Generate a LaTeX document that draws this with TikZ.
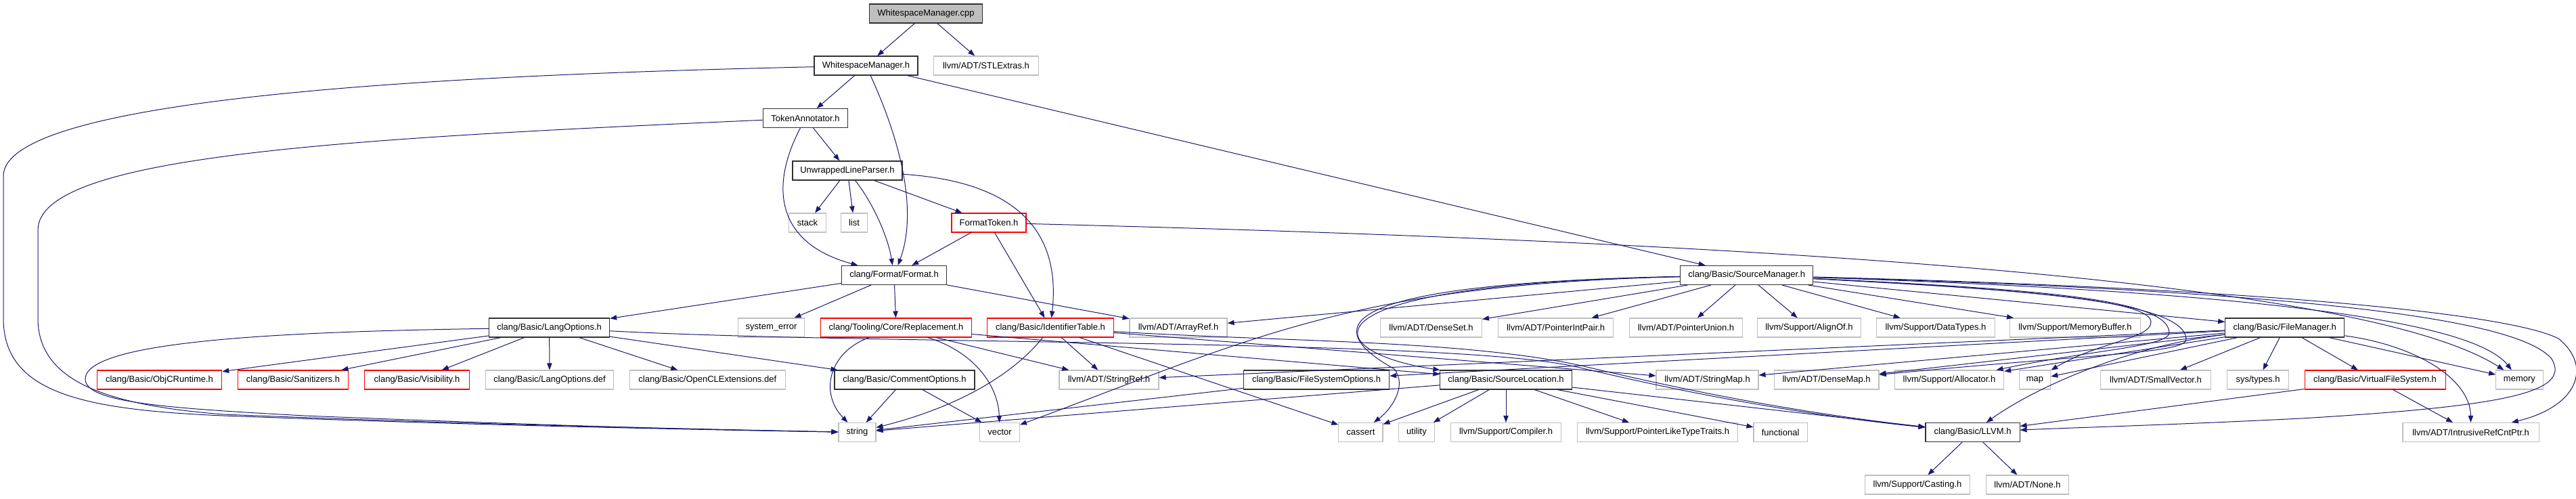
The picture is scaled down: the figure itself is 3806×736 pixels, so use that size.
\documentclass[tikz,border=0pt]{standalone}
\usepackage{fontspec}
\setmainfont{Liberation Sans}
\usetikzlibrary{arrows.meta}
\definecolor{edgec}{RGB}{25,25,112}
\definecolor{grayb}{RGB}{191,191,191}
\definecolor{redb}{RGB}{255,0,0}
\definecolor{blackb}{RGB}{50,50,50}
\begin{document}
\begin{tikzpicture}[x=0.75pt,y=-0.75pt,
  every node/.style={font=\fontsize{9.75}{11}\selectfont},
  box/.style={draw, rectangle, minimum height=21pt, inner sep=0pt, line width=0.8pt, fill=white},
  bk/.style={box, draw=blackb},
  gr/.style={box, draw=grayb},
  rd/.style={box, draw=redb},
  wd/.style={minimum width=#1*0.75pt},
  e/.style={draw=edgec, line width=0.75pt, -{Triangle[length=7.5pt,width=5.5pt]}}]
\useasboundingbox (0,0) rectangle (3806,736);
% nodes
\node[bk,wd=166.5,fill=grayb] (cpp) at (1368,20) {WhitespaceManager.cpp};
\node[bk,wd=153] (wmh) at (1279.5,97) {WhitespaceManager.h};
\node[gr,wd=155] (stl) at (1457,97) {llvm/ADT/STLExtras.h};
\node[bk,wd=125.5] (ta) at (1190,174.5) {TokenAnnotator.h};
\node[bk,wd=162] (ulp) at (1252,252) {UnwrappedLineParser.h};
\node[gr,wd=55] (stack) at (1193,329) {stack};
\node[gr,wd=39] (list) at (1262,329) {list};
\node[rd,wd=110] (ft) at (1461,329) {FormatToken.h};
\node[bk,wd=155] (fmt) at (1321,406.5) {clang/Format/Format.h};
\node[bk,wd=196] (sm) at (2580.7,406.5) {clang/Basic/SourceManager.h};
\node[bk,wd=178] (lo) at (811.6,484) {clang/Basic/LangOptions.h};
\node[gr,wd=98] (se) at (1139.6,484) {system\_error};
\node[rd,wd=222.6] (rep) at (1324,484) {clang/Tooling/Core/Replacement.h};
\node[rd,wd=186.6] (it) at (1552,484) {clang/Basic/IdentifierTable.h};
\node[gr,wd=144] (ar) at (1741,484) {llvm/ADT/ArrayRef.h};
\node[gr,wd=150] (ds) at (2114.5,484) {llvm/ADT/DenseSet.h};
\node[gr,wd=170.6] (pip) at (2298.6,484) {llvm/ADT/PointerIntPair.h};
\node[gr,wd=166.7] (pu) at (2491,484) {llvm/ADT/PointerUnion.h};
\node[gr,wd=153.5] (ao) at (2673,484) {llvm/Support/AlignOf.h};
\node[gr,wd=174.6] (dt) at (2860,484) {llvm/Support/DataTypes.h};
\node[gr,wd=192.3] (mb) at (3066,484) {llvm/Support/MemoryBuffer.h};
\node[bk,wd=176] (fm) at (3375.7,484) {clang/Basic/FileManager.h};
\node[rd,wd=184.5] (objc) at (235.5,561) {clang/Basic/ObjCRuntime.h};
\node[rd,wd=162.5] (san) at (433,561) {clang/Basic/Sanitizers.h};
\node[rd,wd=154.5] (vis) at (616,561) {clang/Basic/Visibility.h};
\node[gr,wd=189.4] (lodef) at (812,561) {clang/Basic/LangOptions.def};
\node[gr,wd=229.8] (ocl) at (1045.3,561) {clang/Basic/OpenCLExtensions.def};
\node[bk,wd=207] (co) at (1336.5,561) {clang/Basic/CommentOptions.h};
\node[gr,wd=147] (sr) at (1638.5,561) {llvm/ADT/StringRef.h};
\node[bk,wd=215.4] (fso) at (1945,561) {clang/Basic/FileSystemOptions.h};
\node[bk,wd=194.2] (sl) at (2225,561) {clang/Basic/SourceLocation.h};
\node[gr,wd=151] (smap) at (2522.5,561) {llvm/ADT/StringMap.h};
\node[gr,wd=154.8] (dm) at (2698.6,561) {llvm/ADT/DenseMap.h};
\node[gr,wd=161.2] (alloc) at (2880,561) {llvm/Support/Allocator.h};
\node[gr,wd=46.5] (map) at (3006.5,561) {map};
\node[gr,wd=162.6] (sv) at (3185,561) {llvm/ADT/SmallVector.h};
\node[gr,wd=90.8] (st) at (3336,561) {sys/types.h};
\node[rd,wd=208] (vfs) at (3509,561) {clang/Basic/VirtualFileSystem.h};
\node[gr,wd=69.4] (mem) at (3722.4,561) {memory};
\node[gr,wd=55] (string) at (1266.5,638.5) {string};
\node[gr,wd=58.7] (vector) at (1477,638.5) {vector};
\node[gr,wd=65.2] (cassert) at (2010.4,638.5) {cassert};
\node[gr,wd=53.5] (utility) at (2093,638.5) {utility};
\node[gr,wd=162.4] (comp) at (2225,638.5) {llvm/Support/Compiler.h};
\node[gr,wd=237.4] (pltt) at (2449,638.5) {llvm/Support/PointerLikeTypeTraits.h};
\node[gr,wd=79.2] (func) at (2630.6,638.5) {functional};
\node[bk,wd=139.1] (llvmh) at (2914.5,638.5) {clang/Basic/LLVM.h};
\node[gr,wd=201.3] (irc) at (3650.6,638.5) {llvm/ADT/IntrusiveRefCntPtr.h};
\node[gr,wd=154.2] (cast) at (2833,716) {llvm/Support/Casting.h};
\node[gr,wd=122.4] (none) at (2995.5,716) {llvm/ADT/None.h};
% edges
\draw[e] (cpp) -- (wmh);
\draw[e] (cpp) -- (stl);
\draw[e] (wmh) -- (ta);
\draw[e] (wmh) .. controls (1345,240) and (1350,330) .. (fmt);
\draw[e] (wmh) -- (sm);
\draw[e] (wmh) .. controls (700,110) and (5,140) .. (5,260) -- (5,470) .. controls (5,580) and (120,605) .. (330,614) .. controls (700,628) and (1000,634) .. (string);
\draw[e] (ta) .. controls (500,205) and (56,230) .. (56,340) -- (56,470) .. controls (56,560) and (150,598) .. (330,612) .. controls (700,627) and (1000,633) .. (string);
\draw[e] (ta) -- (ulp);
\draw[e] (ta) .. controls (1135,280) and (1150,360) .. (fmt);
\draw[e] (ulp) -- (stack);
\draw[e] (ulp) -- (list);
\draw[e] (ulp) .. controls (1290,300) and (1312,350) .. (fmt);
\draw[e] (ulp) -- (ft);
\draw[e] (ulp) .. controls (1500,268) and (1568,340) .. (it);
\draw[e] (ft) -- (fmt);
\draw[e] (ft) -- (it);
\draw[e] (ft) .. controls (2700,360) and (3500,420) .. (mem);
\draw[e] (fmt) -- (lo);
\draw[e] (fmt) -- (se);
\draw[e] (fmt) -- (rep);
\draw[e] (fmt) -- (ar);
% LangOptions
\draw[e] (lo) -- (objc);
\draw[e] (lo) -- (san);
\draw[e] (lo) -- (vis);
\draw[e] (lo) -- (lodef);
\draw[e] (lo) -- (ocl);
\draw[e] (lo) -- (co);
\draw[e] (lo) .. controls (400,490) and (126,505) .. (126,560) .. controls (126,595) and (250,603) .. (450,614) .. controls (800,628) and (1000,634) .. (string);
\draw[e] (lo) .. controls (1300,510) and (2150,500) .. (2330,542) .. controls (2440,568) and (2620,608) .. (llvmh);
% Replacement
\draw[e] (rep) -- (sr);
\draw[e] (rep) -- (sl);
\draw[e] (rep) .. controls (1440,520) and (1475,570) .. (vector);
\draw[e] (rep) .. controls (1225,520) and (1210,580) .. (string);
% IdentifierTable
\draw[e] (it) -- (sr);
\draw[e] (it) -- (smap);
\draw[e] (it) -- (cassert);
\draw[e] (it) .. controls (1500,550) and (1420,600) .. (string);
\draw[e] (it) .. controls (1900,505) and (2160,502) .. (2336,540) .. controls (2446,566) and (2624,606) .. (llvmh);
% CommentOptions, FileSystemOptions
\draw[e] (co) -- (string);
\draw[e] (co) -- (vector);
\draw[e] (fso) -- (string);
% SourceLocation
\draw[e] (sl) -- (string);
\draw[e] (sl) -- (cassert);
\draw[e] (sl) -- (utility);
\draw[e] (sl) -- (comp);
\draw[e] (sl) -- (pltt);
\draw[e] (sl) -- (func);
\draw[e] (sl) -- (llvmh);
% SourceManager
\draw[e] (sm) -- (ar);
\draw[e] (sm) -- (ds);
\draw[e] (sm) -- (pip);
\draw[e] (sm) -- (pu);
\draw[e] (sm) -- (ao);
\draw[e] (sm) -- (dt);
\draw[e] (sm) -- (mb);
\draw[e] (sm) -- (fm);
\draw[e] (sm) .. controls (1900,420) and (1950,520) .. (sl);
\draw[e] (sm) .. controls (1900,420) and (1980,500) .. (2060,545) .. controls (2080,570) and (2055,605) .. (cassert);
\draw[e] (sm) .. controls (2000,420) and (1850,500) .. (vector);
\draw[e] (sm) .. controls (3000,428) and (3225,445) .. (3230,500) .. controls (3234,522) and (3100,522) .. (dm);
\draw[e] (sm) .. controls (3000,427) and (3200,440) .. (3205,490) .. controls (3208,512) and (3100,515) .. (alloc);
\draw[e] (sm) .. controls (2950,426) and (3175,440) .. (3178,475) .. controls (3180,500) and (3100,505) .. (map);
\draw[e] (sm) .. controls (3300,430) and (3650,470) .. (mem);
\draw[e] (sm) .. controls (3300,425) and (3700,460) .. (3780,500) .. controls (3830,540) and (3810,600) .. (irc);
\draw[e] (sm) .. controls (3400,430) and (3720,470) .. (3770,530) .. controls (3800,580) and (3700,600) .. (3400,618) .. controls (3200,628) and (3050,632) .. (llvmh);
% FileManager
\draw[e] (fm) -- (sv);
\draw[e] (fm) -- (st);
\draw[e] (fm) -- (vfs);
\draw[e] (fm) -- (mem);
\draw[e] (fm) .. controls (3570,510) and (3650,560) .. (irc);
\draw[e] (fm) -- (map);
\draw[e] (fm) -- (alloc);
\draw[e] (fm) -- (dm);
\draw[e] (fm) -- (smap);
\draw[e] (fm) -- (sr);
\draw[e] (fm) -- (fso);
\draw[e] (fm) .. controls (3150,510) and (3010,570) .. (llvmh);
% VirtualFileSystem, LLVM.h
\draw[e] (vfs) -- (irc);
\draw[e] (vfs) -- (llvmh);
\draw[e] (llvmh) -- (cast);
\draw[e] (llvmh) -- (none);
\end{tikzpicture}
\end{document}
